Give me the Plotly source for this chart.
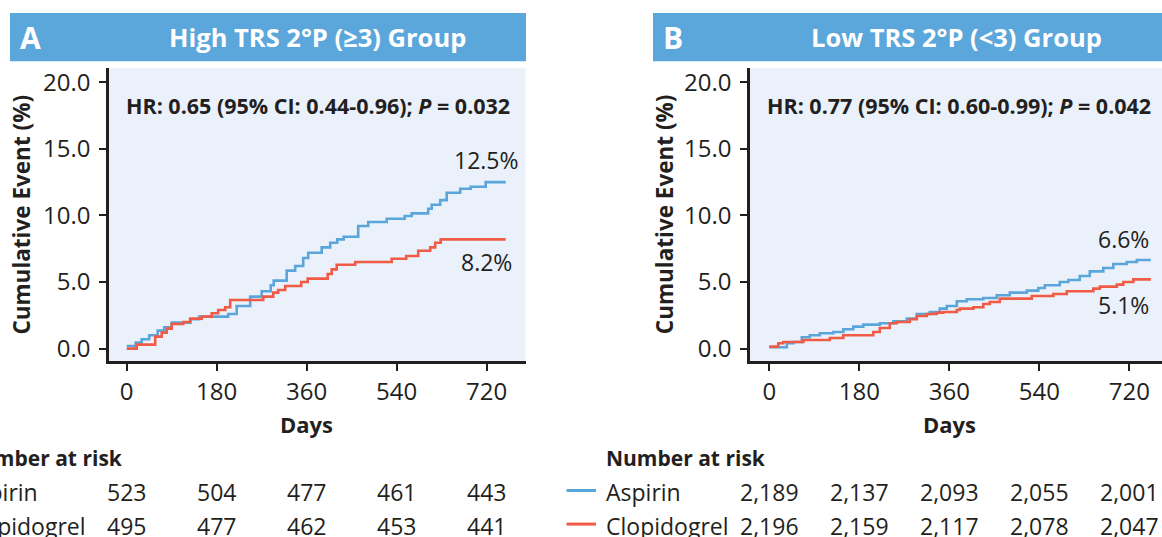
import plotly.graph_objects as go

# ---------------- data ----------------
x_ticks = [0, 180, 360, 540, 720]
y_ticks = [0, 5, 10, 15, 20]
y_tick_text = ["0.0", "5.0", "10.0", "15.0", "20.0"]

# Panel A: High TRS 2°P (>=3)
A_asp_t = [0, 18, 30, 45, 62, 75, 90, 127, 145, 203, 220, 247, 270, 288, 294, 320, 337, 353, 363, 390,
           407, 421, 434, 463, 483, 520, 556, 570, 603, 610, 627, 640, 667, 688, 718, 758]
A_asp_y = [0.2, 0.45, 0.7, 1.0, 1.35, 1.6, 1.95, 2.2, 2.4, 2.6, 3.2, 3.9, 4.3, 4.75, 5.1, 5.85, 6.2, 6.8, 7.2, 7.6,
           7.95, 8.2, 8.4, 9.2, 9.5, 9.75, 9.95, 10.15, 10.5, 10.8, 11.15, 11.7, 12.0, 12.15, 12.5, 12.5]
A_clo_t = [0, 20, 57, 70, 80, 90, 113, 127, 150, 170, 183, 197, 207, 273, 293, 303, 317, 349, 362, 402,
           410, 420, 457, 530, 559, 583, 607, 617, 628, 758]
A_clo_y = [0.0, 0.3, 0.9, 1.2, 1.5, 1.85, 2.0, 2.25, 2.4, 2.65, 2.9, 3.1, 3.65, 3.9, 4.2, 4.4, 4.7, 5.0, 5.25, 5.6,
           5.95, 6.3, 6.5, 6.75, 6.95, 7.35, 7.6, 7.95, 8.2, 8.2]

# Panel B: Low TRS 2°P (<3)
B_asp_t = [0, 35, 48, 65, 81, 101, 128, 148, 168, 188, 221, 248, 275, 295, 321, 341, 355, 375, 395, 428,
           455, 481, 515, 538, 551, 581, 598, 621, 641, 668, 688, 715, 735, 763]
B_asp_y = [0.1, 0.4, 0.5, 0.85, 1.0, 1.15, 1.25, 1.45, 1.65, 1.8, 1.9, 2.05, 2.25, 2.6, 2.75, 3.0, 3.2, 3.55, 3.7, 3.8,
           4.0, 4.2, 4.35, 4.55, 4.75, 5.0, 5.15, 5.45, 5.8, 6.05, 6.35, 6.5, 6.65, 6.65]
B_clo_t = [0, 18, 28, 68, 121, 148, 208, 221, 241, 255, 281, 295, 315, 335, 348, 375, 381, 408, 428, 441,
           461, 525, 568, 595, 648, 661, 695, 708, 728, 763]
B_clo_y = [0.15, 0.4, 0.5, 0.65, 0.8, 1.0, 1.25, 1.55, 1.9, 2.0, 2.2, 2.45, 2.6, 2.7, 2.75, 2.9, 3.0, 3.1, 3.35, 3.5,
           3.75, 3.95, 4.1, 4.3, 4.5, 4.65, 4.8, 5.0, 5.2, 5.2]

titles = ["High TRS 2°P (≥3) Group", "Low TRS 2°P (<3) Group"]
letters = ["A", "B"]
hr_texts = ["<b>HR: 0.65 (95% CI: 0.44-0.96); <i>P</i> = 0.032</b>",
            "<b>HR: 0.77 (95% CI: 0.60-0.99); <i>P</i> = 0.042</b>"]
end_labels = [("12.5%", "8.2%"), ("6.6%", "5.1%")]
series_names = ["Aspirin", "Clopidogrel"]
risk_A = {"Aspirin": [523, 504, 477, 461, 443], "Clopidogrel": [495, 477, 462, 453, 441]}
risk_B = {"Aspirin": ["2,189", "2,137", "2,093", "2,055", "2,001"],
          "Clopidogrel": ["2,196", "2,159", "2,117", "2,078", "2,047"]}

# ---------------- style ----------------
W, H = 1162, 537
BLUE = "#5AA6DB"
RED = "#F15B45"
HEAD = "#5BA6DA"
BG = "#EAF1FA"
TXT = "#231F20"
FONT = "Open Sans"


def px(x):
    return x / W


def py(y):
    return 1 - y / H


fig = go.Figure()

panels = [
    dict(xa="x", ya="y", xl="xaxis", yl="yaxis", data=[(A_asp_t, A_asp_y), (A_clo_t, A_clo_y)],
         dom=(109, 525.5), xr=(-35.4, 797.6), head=(10, 526), off=0, risk=risk_A),
    dict(xa="x2", ya="y2", xl="xaxis2", yl="yaxis2", data=[(B_asp_t, B_asp_y), (B_clo_t, B_clo_y)],
         dom=(750, 1162), xr=(-38.6, 785.4), head=(653, 1162), off=642.6, risk=risk_B),
]

annotations = []
shapes = []
y_top, y_bot = 66, 362
yrange = [(349.5 - y_bot) / 13.47, (349.5 - y_top) / 13.47]

for i, p in enumerate(panels):
    for (t, v), col, name in zip(p["data"], [BLUE, RED], series_names):
        fig.add_trace(go.Scatter(x=t, y=v, mode="lines", line=dict(color=col, width=2.6, shape="hv"),
                                 name=name, xaxis=p["xa"], yaxis=p["ya"], showlegend=False,
                                 hoverinfo="skip"))
    axis_common = dict(showline=True, linecolor=TXT, linewidth=2.5, ticks="outside", ticklen=7,
                       tickwidth=2, tickcolor=TXT, showgrid=False, zeroline=False,
                       tickfont=dict(family=FONT, size=24, color=TXT))
    fig.update_layout(**{
        p["xl"]: dict(domain=[px(p["dom"][0]), px(p["dom"][1])], range=list(p["xr"]), anchor=p["ya"],
                      tickvals=x_ticks, ticktext=[str(v) for v in x_ticks], **axis_common),
        p["yl"]: dict(domain=[py(y_bot), py(y_top)], range=yrange, anchor=p["xa"],
                      tickvals=y_ticks, ticktext=y_tick_text, ticklabelstandoff=4, **axis_common),
    })
    # header bar
    shapes.append(dict(type="rect", xref="paper", yref="paper", x0=px(p["head"][0]), x1=px(p["head"][1]),
                       y0=py(59), y1=py(10), fillcolor=HEAD, line=dict(width=0), layer="below"))
    annotations.append(dict(xref="paper", yref="paper", x=px(p["head"][0] + 8), y=py(35), xanchor="left",
                            yanchor="middle", text=f"<b>{letters[i]}</b>", showarrow=False,
                            font=dict(family=FONT, size=30, color="white")))
    annotations.append(dict(xref="paper", yref="paper", x=px((p["dom"][0] + p["dom"][1]) / 2), y=py(34),
                            xanchor="center", yanchor="middle", text=f"<b>{titles[i]}</b>", showarrow=False,
                            font=dict(family=FONT, size=25.5, color="white")))
    # HR text
    annotations.append(dict(xref="paper", yref="paper", x=px(p["dom"][0] + 15), y=py(104), xanchor="left",
                            yanchor="middle", text=hr_texts[i], showarrow=False,
                            font=dict(family=FONT, size=21.5, color=TXT)))
    # y-axis title
    annotations.append(dict(xref="paper", yref="paper", x=px(22 + p["off"]), y=py(214), xanchor="center",
                            yanchor="middle", text="<b>Cumulative Event (%)</b>", textangle=-90,
                            showarrow=False, font=dict(family=FONT, size=22.5, color=TXT)))
    # end labels
    lab_pos = [((720, 14.14), (720, 6.52)), ((707.5, 8.26), (708, 3.3))][i]
    for lab, (lx, ly) in zip(end_labels[i], lab_pos):
        annotations.append(dict(xref=p["xa"], yref=p["ya"], x=lx, y=ly, xanchor="center", yanchor="middle",
                                text=lab, showarrow=False, font=dict(family=FONT, size=23, color=TXT)))
    # Days
    annotations.append(dict(xref=p["xa"], yref="paper", x=360, y=py(426), xanchor="center", yanchor="middle",
                            text="<b>Days</b>", showarrow=False, font=dict(family=FONT, size=22, color=TXT)))
    # Number at risk table
    left = 604 - 642.6 + p["off"]
    annotations.append(dict(xref="paper", yref="paper", x=px(left), y=py(460), xanchor="left", yanchor="middle",
                            text="<b>Number at risk</b>", showarrow=False,
                            font=dict(family=FONT, size=21, color=TXT)))
    for row_y, name, col in [(493, "Aspirin", BLUE), (527, "Clopidogrel", RED)]:
        shapes.append(dict(type="line", xref="paper", yref="paper", x0=px(left - 37.5), x1=px(left - 8),
                           y0=py(row_y), y1=py(row_y), line=dict(color=col, width=3)))
        annotations.append(dict(xref="paper", yref="paper", x=px(left), y=py(row_y + 2), xanchor="left",
                                yanchor="middle", text=name, showarrow=False,
                                font=dict(family=FONT, size=23, color=TXT)))
        for xv, nv in zip(x_ticks, p["risk"][name]):
            annotations.append(dict(xref=p["xa"], yref="paper", x=xv, y=py(row_y + 2), xanchor="center",
                                    yanchor="middle", text=str(nv), showarrow=False,
                                    font=dict(family=FONT, size=23, color=TXT)))

fig.update_layout(width=W, height=H, autosize=False, margin=dict(l=0, r=0, t=0, b=0),
                  paper_bgcolor="white", plot_bgcolor=BG, showlegend=False,
                  annotations=annotations, shapes=shapes, font=dict(family=FONT, color=TXT))

fig.write_html("out.html", config={"displayModeBar": False},
               post_script="document.body.style.margin='0';document.body.style.overflow='hidden';")
